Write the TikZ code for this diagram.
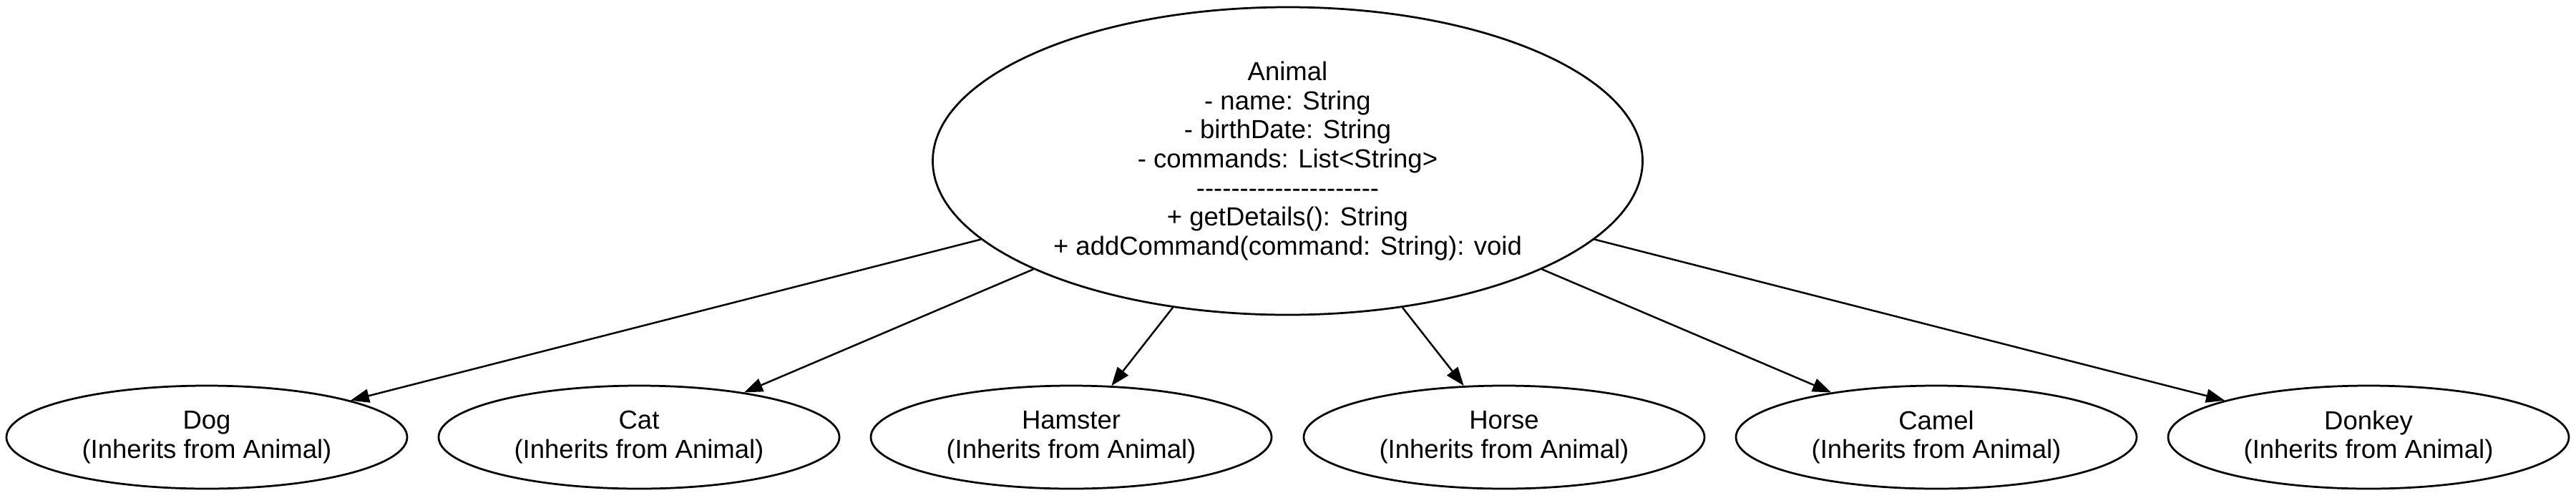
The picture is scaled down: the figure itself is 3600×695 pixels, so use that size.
\documentclass[tikz,border=0pt]{standalone}
\usepackage{fontspec}
\setmainfont{Liberation Sans}[Ligatures=TeXOff]
\usetikzlibrary{shapes.geometric,arrows.meta}
\begin{document}
\begin{tikzpicture}[x=0.2pt,y=-0.2pt,
  cls/.style={draw, ellipse, line width=0.55pt, inner sep=0pt, align=center,
    font=\fontsize{7.3}{8.12}\selectfont},
  big/.style={cls, minimum width=198.4pt, minimum height=86pt},
  sub/.style={cls, minimum width=112pt, minimum height=28.8pt},
  inh/.style={-{Triangle[length=5.2pt,width=3.8pt]}, line width=0.5pt}]
\useasboundingbox (0,0) rectangle (3600,695);
\node[big] (animal) at (1799.5,225) {Animal\\- name: String\\- birthDate: String\\- commands: List<String>\\---------------------\\+ getDetails(): String\\+ addCommand(command: String): void};
\node[sub] (dog) at (289,611) {Dog\\(Inherits from Animal)};
\node[sub] (cat) at (893,611) {Cat\\(Inherits from Animal)};
\node[sub] (hamster) at (1497,611) {Hamster\\(Inherits from Animal)};
\node[sub] (horse) at (2102,611) {Horse\\(Inherits from Animal)};
\node[sub] (camel) at (2706,611) {Camel\\(Inherits from Animal)};
\node[sub] (donkey) at (3310,611) {Donkey\\(Inherits from Animal)};
\foreach \c in {dog,cat,hamster,horse,camel,donkey}
  \draw[inh] (animal) -- (\c);
\end{tikzpicture}
\end{document}
